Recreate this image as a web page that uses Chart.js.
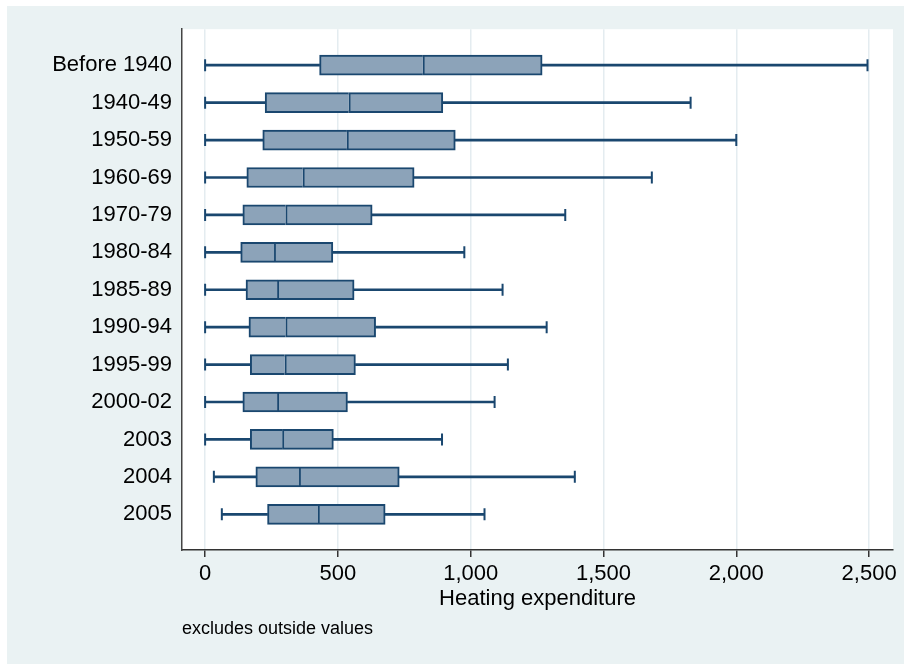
<!DOCTYPE html>
<html>
<head>
<meta charset="utf-8">
<script src="https://cdn.jsdelivr.net/npm/chart.js@4.4.1/dist/chart.umd.min.js"></script>
<style>
  html, body { margin: 0; padding: 0; background: #fff; }
  #wrap { position: absolute; left: 7px; top: 6px; width: 897px; height: 658px; background: #eaf2f3; }
</style>
</head>
<body>
<div id="wrap"><canvas id="box-chart" width="897" height="658"></canvas></div>
<script>
// construction period of the dwelling
const categories = ["Before 1940", "1940-49", "1950-59", "1960-69", "1970-79", "1980-84",
  "1985-89", "1990-94", "1995-99", "2000-02", "2003", "2004", "2005"];

// box plot stats (adjacent values, quartiles, median)
const mins    = [0, 0, 0, 0, 0, 0, 0, 0, 0, 0, 0, 33, 63];
const q1s     = [431, 226, 217, 157, 142, 134, 154, 165, 170, 142, 170, 191, 235];
const medians = [820, 541, 534, 368, 303, 260, 272, 303, 300, 272, 291, 354, 425];
const q3s     = [1269, 895, 942, 787, 629, 481, 561, 642, 566, 536, 483, 731, 678];
const maxs    = [2494, 1828, 2000, 1682, 1356, 976, 1120, 1286, 1140, 1090, 892, 1392, 1052];

const xTicks = [0, 500, 1000, 1500, 2000, 2500];

const navy = "#1a476f";
const boxFill = "#8ca3b9";

Chart.defaults.font.family = "'Liberation Sans', Arial, sans-serif";
Chart.defaults.color = "#000";

function range(lo, hi) {
  return categories.map((c, i) => ({ x: [lo[i], hi[i]], y: i }));
}

const plotBg = {
  id: "plotBg",
  beforeDraw(chart) {
    const a = chart.chartArea;
    chart.ctx.save();
    chart.ctx.fillStyle = "#fff";
    chart.ctx.fillRect(a.left, a.top, a.right - a.left, a.bottom - a.top);
    chart.ctx.restore();
  },
};

new Chart(document.getElementById("box-chart"), {
  type: "bar",
  data: {
    datasets: [
      {
        // lower whisker
        grouped: false, barThickness: 2,
        data: range(mins, q1s), backgroundColor: navy, borderWidth: 0,
      },
      {
        // upper whisker
        grouped: false, barThickness: 2,
        data: range(q3s, maxs), backgroundColor: navy, borderWidth: 0,
      },
      {
        // q1 -> median
        grouped: false, barThickness: 20,
        data: range(q1s, medians), backgroundColor: boxFill,
        borderColor: navy, borderWidth: 2, borderSkipped: "right",
      },
      {
        // median -> q3
        grouped: false, barThickness: 20,
        data: range(medians, q3s), backgroundColor: boxFill,
        borderColor: navy, borderWidth: 2, borderSkipped: false,
      },
      {
        // whisker caps
        type: "scatter",
        data: categories.flatMap((c, i) => [{ x: mins[i], y: i }, { x: maxs[i], y: i }]),
        pointStyle: "line", rotation: 90, radius: 6, hoverRadius: 6,
        borderColor: navy, backgroundColor: navy, borderWidth: 2,
      },
    ],
  },
  options: {
    indexAxis: "y",
    responsive: false,
    animation: false,
    events: [],
    layout: { padding: { top: 23, right: 11, left: 0, bottom: 0 } },
    scales: {
      x: {
        type: "linear",
        offset: false,
        min: -87,
        max: 2590,
        afterBuildTicks: (s) => { s.ticks = xTicks.map((v) => ({ value: v })); },
        afterFit: (s) => { s.height = 59.4; },
        ticks: {
          autoSkip: false,
          padding: 4,
          font: { size: 22 },
          callback: (v) => v.toLocaleString("en-US"),
        },
        grid: { offset: false, color: "#e4ecf0", lineWidth: 1.5, tickColor: "#333", tickLength: 7, tickWidth: 1.5 },
        border: { color: "#333", width: 1.5 },
        title: {
          display: true, text: "Heating expenditure",
          font: { size: 22, lineHeight: 0.95 }, padding: { top: 0, bottom: 0 },
        },
      },
      y: {
        type: "linear",
        offset: false,
        reverse: true,
        min: -0.962,
        max: 12.954,
        afterBuildTicks: (s) => { s.ticks = categories.map((c, i) => ({ value: i })); },
        afterFit: (s) => { s.width = 175; },
        ticks: {
          autoSkip: false,
          padding: 10,
          font: { size: 22 },
          callback: (v) => categories[Math.round(v)],
        },
        grid: { display: false, offset: false, drawTicks: false },
        border: { color: "#444", width: 1.5 },
      },
    },
    plugins: {
      legend: { display: false },
      tooltip: { enabled: false },
      title: {
        display: true,
        position: "bottom",
        align: "start",
        fullSize: false,
        text: "excludes outside values",
        font: { size: 18, weight: "normal" },
        color: "#000",
        padding: { top: 9, bottom: 24 },
      },
    },
  },
  plugins: [plotBg],
});
</script>
</body>
</html>
